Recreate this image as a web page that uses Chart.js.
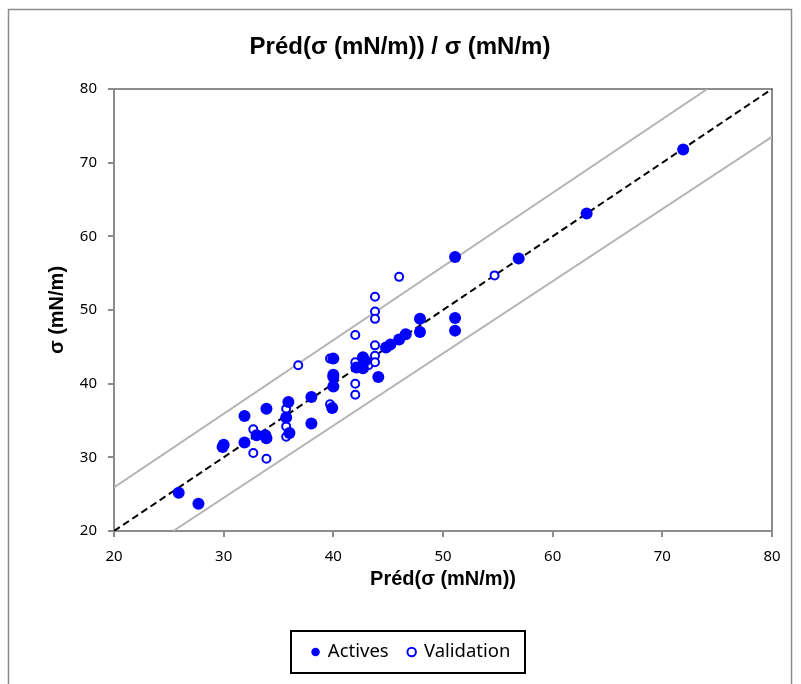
<!DOCTYPE html>
<html><head><meta charset="utf-8">
<script src="https://cdn.jsdelivr.net/npm/chart.js@4.4.0/dist/chart.umd.min.js"></script>
<style>html,body{margin:0;padding:0;background:#fff;}#wrap{width:801px;height:684px;position:relative;}</style>
</head><body><div id="wrap"><canvas id="c" width="801" height="684"></canvas></div>
<script>
const activesX = [25.9, 27.7, 29.9, 30.0, 31.9, 31.9, 33.0, 33.8, 33.9, 33.9, 35.9, 35.7, 36.0, 38.0, 38.0, 40.0, 40.0, 40.0, 40.0, 39.9, 42.7, 42.9, 42.1, 42.7, 44.1, 44.8, 45.2, 46.0, 46.6, 47.9, 47.9, 51.1, 51.1, 51.1, 56.9, 63.1, 71.9];
const activesY = [25.2, 23.7, 31.4, 31.7, 35.6, 32.0, 33.0, 33.0, 32.6, 36.6, 37.5, 35.4, 33.3, 38.2, 34.6, 43.4, 41.2, 40.9, 39.6, 36.7, 43.6, 43.1, 42.2, 42.1, 40.9, 44.9, 45.3, 46.0, 46.7, 48.8, 47.0, 57.2, 48.9, 47.2, 57.0, 63.1, 71.8];
const validationX = [32.7, 32.7, 33.9, 35.7, 35.7, 35.7, 36.8, 39.7, 39.7, 42.0, 42.0, 42.0, 42.0, 43.2, 43.8, 43.8, 43.8, 43.8, 43.8, 43.8, 46.0, 54.7];
const validationY = [33.8, 30.6, 29.8, 36.6, 34.2, 32.8, 42.5, 43.4, 37.2, 46.6, 42.9, 40.0, 38.5, 42.5, 51.8, 49.8, 48.8, 45.2, 43.8, 42.9, 54.5, 54.7];
const identityX = [20, 80];
const identityY = [20, 80];
const upperX = [20, 74.1];
const upperY = [25.9, 80];
const lowerX = [25.4, 80];
const lowerY = [20, 73.5];
const xTicks = [20, 30, 40, 50, 60, 70, 80];
const yTicks = [20, 30, 40, 50, 60, 70, 80];
const seriesNames = ['Actives', 'Validation'];
const chartTitle = 'Préd(σ (mN/m)) / σ (mN/m)';
const xTitle = 'Préd(σ (mN/m))';
const yTitle = 'σ (mN/m)';

const pts = (xs, ys) => xs.map((x, i) => ({x: x, y: ys[i]}));
const BLUE = '#0000ff';

const framePlugin = {
  id: 'frame',
  afterLayout(chart) {
    const lg = chart.legend;
    const d = 411.5 - (lg.left + lg.right) / 2;
    lg.left += d; lg.right += d;
  },
  beforeDraw(chart) {
    const ctx = chart.ctx;
    ctx.save();
    ctx.fillStyle = '#fff';
    ctx.fillRect(0, 0, chart.width, chart.height);
    ctx.strokeStyle = '#8c8c8c';
    ctx.lineWidth = 1.5;
    ctx.strokeRect(8.5, 9.5, 783, 680);
    ctx.restore();
  },
  beforeDatasetsDraw(chart) {
    const a = chart.chartArea, ctx = chart.ctx;
    ctx.save();
    ctx.strokeStyle = '#8c8c8c';
    ctx.lineWidth = 2;
    ctx.strokeRect(a.left, a.top, a.right - a.left, a.bottom - a.top);
    ctx.restore();
  },
  afterDraw(chart) {
    const hb = chart.legend.legendHitBoxes;
    if (!hb || !hb.length) return;
    const ctx = chart.ctx;
    const l = hb[0].left - 22;
    const last = hb[hb.length - 1];
    const r = last.left + last.width + 14;
    const cy = hb[0].top + hb[0].height / 2;
    ctx.save();
    ctx.strokeStyle = '#000';
    ctx.lineWidth = 2;
    ctx.strokeRect(Math.round(l), Math.round(cy - 21), Math.round(r - l), 42);
    ctx.restore();
  }
};

new Chart(document.getElementById('c'), {
  type: 'scatter',
  data: {
    datasets: [
      {label: seriesNames[0], data: pts(activesX, activesY), pointRadius: 6, pointBorderWidth: 0, borderWidth: 0,
       backgroundColor: BLUE, borderColor: BLUE, pointStyle: 'circle', order: 1},
      {label: seriesNames[1], data: pts(validationX, validationY), pointRadius: 4, borderWidth: 2, pointBorderWidth: 2,
       backgroundColor: '#fff', borderColor: BLUE, pointStyle: 'circle', order: 2},
      {label: 'identity', data: pts(identityX, identityY), showLine: true, pointRadius: 0, borderColor: '#000',
       borderWidth: 2, borderDash: [7, 4], order: 3},
      {label: 'upper', data: pts(upperX, upperY), showLine: true, pointRadius: 0, borderColor: '#b4b4b4', borderWidth: 2, order: 4},
      {label: 'lower', data: pts(lowerX, lowerY), showLine: true, pointRadius: 0, borderColor: '#b4b4b4', borderWidth: 2, order: 5}
    ]
  },
  options: {
    responsive: false,
    animation: false,
    events: [],
    layout: {padding: {left: 28, right: 29, top: 0, bottom: 12.75}},
    plugins: {
      tooltip: {enabled: false},
      title: {display: true, text: chartTitle, color: '#000',
        font: {family: 'Liberation Sans', size: 24, weight: 'bold'},
        padding: {top: 32.6, bottom: 27.6}},
      legend: {display: true, position: 'bottom',
        labels: {usePointStyle: true, boxWidth: 6, boxHeight: 6, padding: 20, color: '#000',
          font: {family: 'Noto Sans', size: 18.5},
          filter: (item) => seriesNames.includes(item.text)}}
    },
    scales: {
      x: {type: 'linear', min: 20, max: 80,
        afterFit: (s) => { s.height = 91.75; },
        afterBuildTicks: (s) => { s.ticks = xTicks.map(v => ({value: v})); },
        grid: {display: true, drawOnChartArea: false, drawTicks: true, tickLength: 6, color: '#8c8c8c', lineWidth: 2},
        border: {display: true, color: '#8c8c8c', width: 2},
        ticks: {color: '#000', padding: 11, font: {family: 'Noto Sans', size: 15}},
        title: {display: true, text: xTitle, color: '#000', font: {family: 'Liberation Sans', size: 20, weight: 'bold'},
          padding: {top: 0, bottom: 31.75}}
      },
      y: {type: 'linear', min: 20, max: 80,
        afterFit: (s) => { s.width = 86; },
        afterBuildTicks: (s) => { s.ticks = yTicks.map(v => ({value: v})); },
        grid: {display: true, drawOnChartArea: false, drawTicks: true, tickLength: 6, color: '#8c8c8c', lineWidth: 2},
        border: {display: true, color: '#8c8c8c', width: 2},
        ticks: {color: '#000', padding: 11, font: {family: 'Noto Sans', size: 15}},
        title: {display: true, text: yTitle, color: '#000', font: {family: 'Liberation Sans', size: 20, weight: 'bold'},
          padding: {top: 17, bottom: 0}}
      }
    }
  },
  plugins: [framePlugin]
});
</script></body></html>
